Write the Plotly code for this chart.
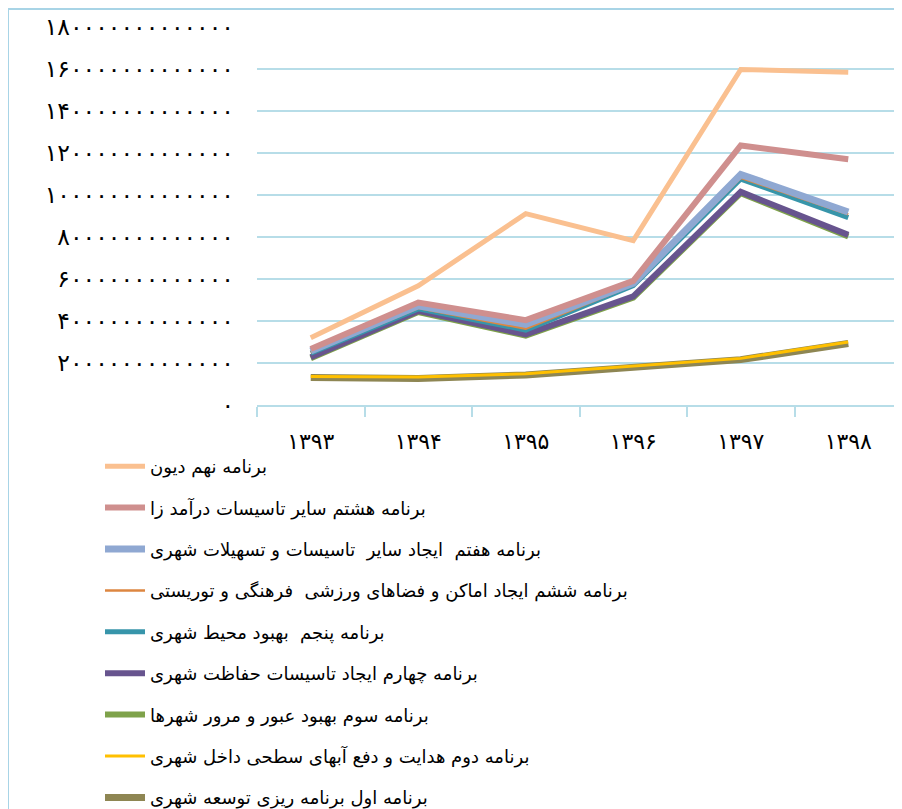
import plotly.graph_objects as go

years = ["۱۳۹۳", "۱۳۹۴", "۱۳۹۵", "۱۳۹۶", "۱۳۹۷", "۱۳۹۸"]

s_aval = [1.31e13, 1.26e13, 1.43e13, 1.81e13, 2.16e13, 2.93e13]
s_dovom = [1.36e13, 1.33e13, 1.49e13, 1.87e13, 2.22e13, 3.00e13]
s_sevom = [2.23e13, 4.43e13, 3.30e13, 5.11e13, 10.09e13, 8.02e13]
s_chaharom = [2.27e13, 4.48e13, 3.36e13, 5.17e13, 10.15e13, 8.10e13]
s_panjom = [2.47e13, 4.58e13, 3.57e13, 5.68e13, 10.76e13, 8.92e13]
s_sheshom = [2.51e13, 4.62e13, 3.63e13, 5.72e13, 10.82e13, 9.08e13]
s_haftom = [2.57e13, 4.72e13, 3.84e13, 5.80e13, 10.98e13, 9.19e13]
s_hashtom = [2.67e13, 4.88e13, 4.04e13, 5.91e13, 12.36e13, 11.70e13]
s_nohom = [3.20e13, 5.68e13, 9.11e13, 7.83e13, 15.98e13, 15.85e13]

names = [
    "برنامه اول برنامه ریزی توسعه شهری",
    "برنامه دوم هدایت و دفع آبهای سطحی داخل شهری",
    "برنامه سوم بهبود عبور و مرور شهرها",
    "برنامه چهارم ایجاد تاسیسات حفاظت شهری",
    "برنامه پنجم  بهبود محیط شهری",
    "برنامه ششم ایجاد اماکن و فضاهای ورزشی  فرهنگی و توریستی",
    "برنامه هفتم  ایجاد سایر  تاسیسات و تسهیلات شهری",
    "برنامه هشتم سایر تاسیسات درآمد زا",
    "برنامه نهم دیون",
]
series = [s_aval, s_dovom, s_sevom, s_chaharom, s_panjom, s_sheshom, s_haftom, s_hashtom, s_nohom]
colors = ["#8E8653", "#FFC000", "#7EA24A", "#67548E", "#3795AA", "#DD8640", "#8FA8D2", "#CF8F8E", "#FAC090"]
widths = [7, 3, 6, 6, 5, 2.5, 7, 6, 5]

y_ticks = [0, 2e13, 4e13, 6e13, 8e13, 10e13, 12e13, 14e13, 16e13, 18e13]

fa = str.maketrans("0123456789", "۰۱۲۳۴۵۶۷۸۹")
y_ticktext = [str(int(v)).translate(fa) for v in y_ticks]

fig = go.Figure()
n = len(series)
for i, (nm, vals, c, w) in enumerate(zip(names, series, colors, widths)):
    fig.add_trace(go.Scatter(
        x=years, y=vals, name=nm, mode="lines",
        line=dict(color=c, width=w),
        legendgroup="g%d" % i, legendrank=100 + (n - i),
    ))

W, H = 902, 809
L, R, T, B = 249, 8, 19, 412
pw, ph = W - L - R, H - T - B


def px(x):
    return (x - L) / pw


def py(y):
    return (H - B - y) / ph


grid = "#B7DDE8"
fig.update_layout(
    width=W, height=H,
    margin=dict(l=L, r=R, t=T, b=B, pad=0, autoexpand=False),
    paper_bgcolor="white", plot_bgcolor="white",
    font=dict(family="DejaVu Sans", color="#000000"),
    showlegend=True,
    legend=dict(
        xref="container", yref="container",
        x=92 / W, y=1 - 440 / H, xanchor="left", yanchor="top",
        traceorder="grouped", tracegroupgap=15,
        font=dict(size=18, family="DejaVu Sans", color="#000"),
        bgcolor="rgba(0,0,0,0)", itemwidth=40,
    ),
    xaxis=dict(
        type="category", range=[-0.5, 5.5],
        showgrid=False, showline=True, linecolor=grid, linewidth=2,
        ticks="outside", tickson="boundaries", ticklen=10, tickcolor=grid, tickwidth=2,
        tickfont=dict(size=22, family="DejaVu Sans", color="#000"),
        ticklabelstandoff=16, zeroline=False, tickangle=0,
    ),
    yaxis=dict(
        range=[0, 18e13], tickvals=y_ticks, ticktext=y_ticktext,
        showgrid=True, gridcolor=grid, gridwidth=2,
        showline=False, zeroline=False, ticks="",
        tickfont=dict(size=23.5, family="DejaVu Sans", color="#000"),
        ticklabelstandoff=22,
    ),
    shapes=[dict(
        type="rect", xref="paper", yref="paper",
        x0=px(0), x1=px(930), y0=py(1), y1=py(840),
        line=dict(color="#A8D4E6", width=2), fillcolor="rgba(0,0,0,0)", layer="below",
    )],
)

fig.write_html("out.html")
